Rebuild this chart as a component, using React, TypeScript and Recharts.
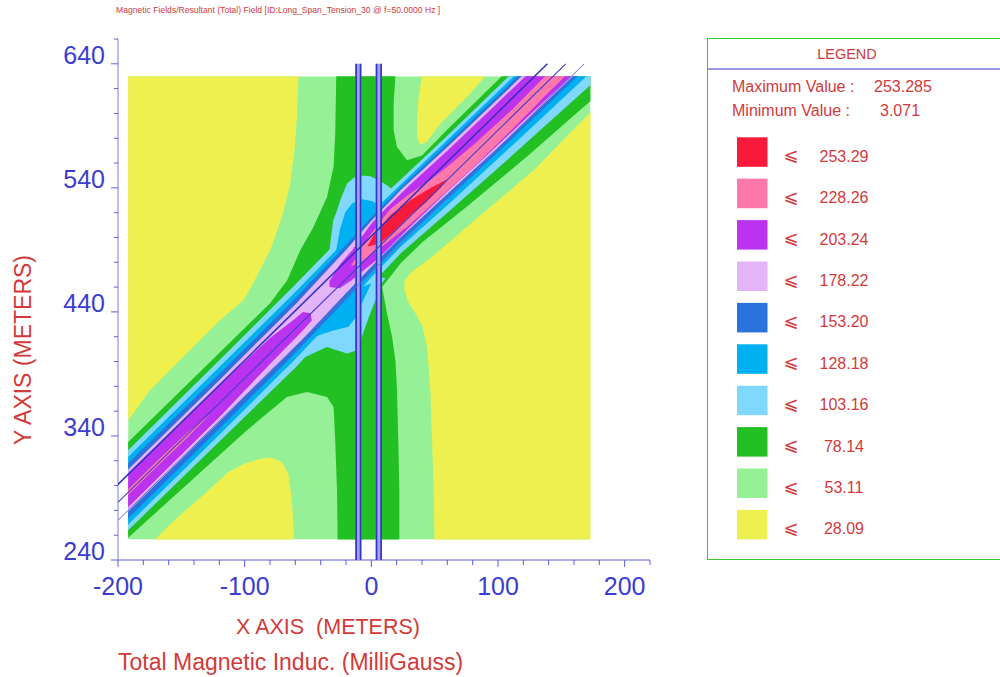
import React from 'react';
import { ComposedChart, XAxis, YAxis, Scatter } from 'recharts';

type P = [number, number];

// ---------- axes ----------
const X_DOMAIN: [number, number] = [-200, 220];
const Y_DOMAIN: [number, number] = [240, 660];
const X_TICKS = [-200, -180, -160, -140, -120, -100, -80, -60, -40, -20, 0, 20, 40, 60, 80, 100, 120, 140, 160, 180, 200, 220];
const Y_TICKS = [240, 260, 280, 300, 320, 340, 360, 380, 400, 420, 440, 460, 480, 500, 520, 540, 560, 580, 600, 620, 640, 660];
const MAJOR_X = [-200, -100, 0, 100, 200];
const MAJOR_Y = [240, 340, 440, 540, 640];

// ---------- legend ----------
const LEGEND_VALUES = ['253.29', '228.26', '203.24', '178.22', '153.20', '128.18', '103.16', '78.14', '53.11', '28.09'];
const LEGEND_COLORS = ['#f81a3a', '#ff78aa', '#bb33ee', '#e4b4f8', '#2a72dc', '#00b0f0', '#80d8ff', '#22c022', '#96f096', '#eef050'];
const MAX_VALUE = '253.285';
const MIN_VALUE = '3.071';

const C_YELLOW = '#eef050';
const C_LGREEN = '#96f096';
const C_GREEN = '#22c022';
const C_LBLUE = '#80d8ff';
const C_CYAN = '#00b0f0';
const C_BLUE = '#2a72dc';
const C_LAV = '#e4b4f8';
const C_PURPLE = '#bb33ee';
const C_PINK = '#ff78aa';
const C_RED = '#f81a3a';

// ---------- contour grid extent (metres) ----------
const GRID: P[] = [[-192, 256.5], [173, 256.5], [173, 630], [-192, 630]];

// ---------- contour regions (metres) ----------
const YELLOW_TL: P[] = [[-200, 645], [-57.5, 645], [-57.5, 630.1], [-58.7, 597.3], [-60.6, 570.4], [-64, 543.8], [-70.6, 516.6], [-79.8, 489.7], [-93.3, 463.1], [-100.9, 449.4], [-122, 430.9], [-148.6, 403.7], [-174.7, 376.9], [-191.9, 352.7], [-200, 345]];
const YELLOW_TR: P[] = [[40.1, 645], [40.1, 630.1], [37.4, 613.4], [36, 594.6], [36.1, 580.1], [38.7, 574.8], [43.5, 576.9], [54.5, 591.4], [62.5, 600], [75.7, 613.4], [90.1, 630.1], [105, 645]];
const YELLOW_BL: P[] = [[-190, 240], [-171, 256.5], [-152.6, 274.7], [-131.5, 293.5], [-113, 311], [-99.8, 317.7], [-86.7, 321.8], [-78.8, 322.6], [-70.9, 319], [-65.6, 309.7], [-63, 290.8], [-61.7, 272], [-61.1, 256.5], [-61, 240]];
const YELLOW_BR: P[] = [[50, 240], [49.8, 256.5], [49.2, 296.2], [48, 336.5], [46.6, 376.9], [44, 411.8], [40.1, 429.3], [33.4, 441.4], [29.2, 447.8], [26.1, 457.5], [26.1, 465.6], [32.4, 472.8], [46.6, 483.3], [74.3, 507.6], [128.3, 554.4], [173.1, 601], [200, 628], [200, 240]];

const GREEN: P[] = [
  [-260, 267], [-79.8, 447.2], [-66.4, 465.5], [-56.1, 489.7], [-45.8, 508.3], [-35, 532.7], [-29.8, 557], [-28.5, 583.9], [-27.7, 630.1], [-27.7, 645],
  [19, 645], [19, 630.1], [17.6, 608], [17.6, 586.5], [20.3, 573], [28.2, 562.3], [40, 566], [60, 587], [103, 630], [120, 647],
  [200, 647], [200, 637], [173, 610], [125, 567], [76, 525.4], [40, 496], [23, 479], [8.5, 460.1],
  [12.4, 438.7], [16.4, 419.8], [19, 401], [20.3, 376.9], [21.6, 323.1], [22.1, 296.2], [22.1, 256.5], [22.1, 230],
  [-26.6, 230], [-26.6, 256.5], [-27.1, 296.2], [-28.5, 336.5], [-29.8, 363.4], [-35, 371.5], [-50.8, 375.5], [-66.6, 371.5], [-98.2, 344.6], [-192, 258], [-260, 190],
];

const LBLUE_BAND: P[] = [
  [-260, 260.5], [-192, 328.5], [-120, 401], [-60, 462], [-20, 504], [0, 525], [23, 546.5], [60, 582], [110, 631.5], [173, 694.5], [230, 751.5],
  [230, 677], [173, 623], [110, 565], [60, 520], [23, 487], [0, 462], [-20, 439], [-60, 395], [-120, 335.5], [-192, 264], [-260, 196],
];
const LBLUE_UPPER_BLOB: P[] = [[-33, 490], [-31.6, 502], [-30, 514], [-27, 522], [-24.5, 530], [-19.2, 543.5], [-11.3, 550.2], [-0.8, 549.4], [5.8, 546.2], [12.4, 542.2], [18, 537], [10, 515], [-20, 480]];
const LBLUE_LOWER_WEDGE: P[] = [[-61.4, 399.4], [-35, 411.8], [-19.2, 406.5], [-11.3, 409.1], [-7.1, 421.2], [-0.8, 439], [4.7, 453.5], [7.1, 461.5], [11.1, 467.2], [0, 470], [-40, 440]];

const CYAN_BAND: P[] = [
  [-260, 255], [-192, 323], [-120, 395.5], [-60, 456], [-20, 498], [0, 520], [23, 542.5], [60, 578.5], [110, 627.5], [173, 690.5], [230, 747.5],
  [230, 688], [173, 633], [110, 573], [60, 526], [23, 492.3], [0, 468], [-20, 445], [-60, 402], [-120, 341], [-192, 268.7], [-260, 200.7],
];
const CYAN_UPPER_BLOB: P[] = [[-28.5, 485.6], [-24.5, 507.4], [-20.6, 520.3], [-15, 527.6], [-7.1, 530.9], [0.8, 529.3], [7.1, 525.3], [0, 505], [-25, 480]];
const CYAN_LOWER_WEDGE: P[] = [[-45, 420], [-30, 425], [-18, 428], [-12, 436], [-6, 450], [0, 463], [-20, 455]];

const BLUE_BAND: P[] = [
  [-260, 250], [-192, 318], [-120, 390], [-60, 451], [-20, 494], [0, 516.5], [23, 540], [60, 575.5], [110, 624.5], [173, 686.5], [230, 743.5],
  [230, 697], [173, 640], [110, 578.5], [60, 531], [23, 496.3], [0, 472], [-20, 450], [-60, 407], [-120, 346], [-192, 273.5], [-260, 205.5],
];

const LAV_BAND: P[] = [
  [-260, 245], [-192, 313], [-120, 385], [-60, 446], [-20, 490], [0, 513.5], [23, 538], [60, 573], [110, 621.5], [173, 683.5], [230, 740.5],
  [230, 700.5], [173, 643.5], [110, 582], [60, 535], [23, 500], [0, 476.5], [-20, 455], [-60, 412], [-120, 351.5], [-192, 279], [-260, 211],
];

const PURPLE_LOWER: P[] = [[-260, 242], [-192, 310], [-120, 381], [-80, 419], [-62, 433], [-54, 440], [-48, 439], [-47, 433], [-55, 424], [-80, 398], [-120, 355], [-192, 282.5], [-260, 214.5]];
const PURPLE_CENTRAL: P[] = [[-33, 465], [-25, 478], [-15, 490], [-8, 500], [0, 511], [10, 522], [30, 542], [60, 570], [90, 599], [130, 638], [150, 657.5], [175, 657.5], [170, 641.5], [130, 603.5], [90, 565], [60, 537], [30, 508], [10, 487.5], [0, 478.5], [-8, 472], [-15, 466], [-25, 459], [-33, 460]];

const PINK_CENTRAL: P[] = [[-16, 477], [-8, 492], [2, 506], [15, 523], [30, 535], [46, 546], [60, 557], [81, 575], [110, 602], [140, 633], [150, 643], [175, 660], [170, 647], [140, 617], [110, 586], [81, 557], [55, 533], [30, 510], [10, 494], [0, 487], [-8, 480]];
const PINK_STREAK: P[] = [[-200, 289], [-170, 319], [-145, 343], [-128, 357], [-145, 339], [-170, 314.5], [-200, 284.5]];

const RED_CORE: P[] = [[-3.2, 492.8], [3.2, 504.1], [15, 517.9], [30.8, 530.1], [46.6, 539.8], [60.1, 547], [54.5, 539.8], [42.7, 527.7], [30.8, 517.9], [19, 505.8], [7.1, 495.4]];

// ---------- conductors (metres) ----------
const LINE_A: P[] = [[-201, 300], [139, 640]];
const LINE_B: P[] = [[-201, 285.5], [153.5, 640]];
const LINE_C: P[] = [[-201, 271], [168, 640]];
const VPAIR_LEFT_FILL: P[] = [[-12.6, 240], [-7.9, 240], [-7.9, 640], [-12.6, 640]];
const VPAIR_RIGHT_FILL: P[] = [[3.5, 240], [8.3, 240], [8.3, 640], [3.5, 640]];
const VLINE_1: P[] = [[-12, 240], [-12, 640]];
const VLINE_2: P[] = [[-8.5, 240], [-8.5, 640]];
const VLINE_3: P[] = [[4.1, 240], [4.1, 640]];
const VLINE_4: P[] = [[7.7, 240], [7.7, 640]];

const FONT = '"Liberation Sans", Arial, sans-serif';
const AXIS_COLOR = '#5b5bdf';
const TICK_COLOR = '#3c3cd0';
const RED_TEXT = '#d23a3a';

const toData = (pts: P[]) => pts.map(([x, y]) => ({ x, y }));

const pathOf = (pts: any[], close: boolean) =>
  pts.map((p: any, i: number) => `${i ? 'L' : 'M'}${p.x.toFixed(2)},${p.y.toFixed(2)}`).join('') + (close ? 'Z' : '');

const polyRenderer = (fill: string) => (props: any) => {
  const pts = props.points || [];
  if (!pts.length) return <g />;
  return <path d={pathOf(pts, true)} fill={fill} stroke="none" clipPath="url(#gridClip)" />;
};

const plainPolyRenderer = (fill: string) => (props: any) => {
  const pts = props.points || [];
  if (!pts.length) return <g />;
  return <path d={pathOf(pts, true)} fill={fill} stroke="none" />;
};

const strokeRenderer = (color: string, width: number) => (props: any) => {
  const pts = props.points || [];
  if (!pts.length) return <g />;
  return <path d={pathOf(pts, false)} fill="none" stroke={color} strokeWidth={width} />;
};

const clipRenderer = (props: any) => {
  const pts = props.points || [];
  if (!pts.length) return <g />;
  return (
    <defs>
      <clipPath id="gridClip">
        <path d={pathOf(pts, true)} />
      </clipPath>
    </defs>
  );
};

const Empty = () => <g />;

const XTick = (props: any) => {
  const { x, y, payload } = props;
  const v = payload.value;
  const major = MAJOR_X.includes(v);
  return (
    <g>
      <line x1={x} y1={y} x2={x} y2={y + (major ? 7 : 5)} stroke={AXIS_COLOR} strokeWidth={1} />
      {major ? (
        <text x={x} y={y + 35} textAnchor="middle" fontSize={25} fill={TICK_COLOR} fontFamily={FONT}>
          {v}
        </text>
      ) : null}
    </g>
  );
};

const YTick = (props: any) => {
  const { x, y, payload } = props;
  const v = payload.value;
  const major = MAJOR_Y.includes(v);
  return (
    <g>
      <line x1={x - (major ? 7 : 4)} y1={y} x2={x} y2={y} stroke={AXIS_COLOR} strokeWidth={1} />
      {major ? (
        <text x={x - 13} y={y} textAnchor="end" fontSize={25} fill={TICK_COLOR} fontFamily={FONT}>
          {v}
        </text>
      ) : null}
    </g>
  );
};

type Layer = { key: string; pts: P[]; render: (p: any) => any };

const FILL_LAYERS: Layer[] = [
  { key: 'lgreen-bg', pts: GRID, render: polyRenderer(C_LGREEN) },
  { key: 'y-tl', pts: YELLOW_TL, render: polyRenderer(C_YELLOW) },
  { key: 'y-tr', pts: YELLOW_TR, render: polyRenderer(C_YELLOW) },
  { key: 'y-bl', pts: YELLOW_BL, render: polyRenderer(C_YELLOW) },
  { key: 'y-br', pts: YELLOW_BR, render: polyRenderer(C_YELLOW) },
  { key: 'green', pts: GREEN, render: polyRenderer(C_GREEN) },
  { key: 'lb-band', pts: LBLUE_BAND, render: polyRenderer(C_LBLUE) },
  { key: 'lb-blob', pts: LBLUE_UPPER_BLOB, render: polyRenderer(C_LBLUE) },
  { key: 'lb-wedge', pts: LBLUE_LOWER_WEDGE, render: polyRenderer(C_LBLUE) },
  { key: 'cy-band', pts: CYAN_BAND, render: polyRenderer(C_CYAN) },
  { key: 'cy-blob', pts: CYAN_UPPER_BLOB, render: polyRenderer(C_CYAN) },
  { key: 'cy-wedge', pts: CYAN_LOWER_WEDGE, render: polyRenderer(C_CYAN) },
  { key: 'blue-band', pts: BLUE_BAND, render: polyRenderer(C_BLUE) },
  { key: 'lav-band', pts: LAV_BAND, render: polyRenderer(C_LAV) },
  { key: 'pu-lower', pts: PURPLE_LOWER, render: polyRenderer(C_PURPLE) },
  { key: 'pu-central', pts: PURPLE_CENTRAL, render: polyRenderer(C_PURPLE) },
  { key: 'pk-central', pts: PINK_CENTRAL, render: polyRenderer(C_PINK) },
  { key: 'pk-streak', pts: PINK_STREAK, render: polyRenderer(C_PINK) },
  { key: 'red', pts: RED_CORE, render: polyRenderer(C_RED) },
];

const LINE_LAYERS: Layer[] = [
  { key: 'vp-l', pts: VPAIR_LEFT_FILL, render: plainPolyRenderer('#a4a4ee') },
  { key: 'vp-r', pts: VPAIR_RIGHT_FILL, render: plainPolyRenderer('#a4a4ee') },
  { key: 'v1', pts: VLINE_1, render: strokeRenderer('#3434c8', 1.7) },
  { key: 'v2', pts: VLINE_2, render: strokeRenderer('#3434c8', 1.7) },
  { key: 'v3', pts: VLINE_3, render: strokeRenderer('#3434c8', 1.7) },
  { key: 'v4', pts: VLINE_4, render: strokeRenderer('#3434c8', 1.7) },
  { key: 'la', pts: LINE_A, render: strokeRenderer('#3030c4', 1.5) },
  { key: 'lb', pts: LINE_B, render: strokeRenderer('#4040cc', 1.1) },
  { key: 'lc', pts: LINE_C, render: strokeRenderer('#6a6ad8', 1) },
];

function Legend() {
  return (
    <svg width={1000} height={677} style={{ position: 'absolute', left: 0, top: 0, pointerEvents: 'none' }}>
      <text x={116} y={13} fontSize={8.6} fill={RED_TEXT} fontFamily={FONT}>
        Magnetic Fields/Resultant (Total) Field [ID:Long_Span_Tension_30  @ f=50.0000 Hz ]
      </text>
      <text x={0} y={0} transform="translate(31,350) rotate(-90)" textAnchor="middle" fontSize={23} fill={RED_TEXT} fontFamily={FONT}>
        Y AXIS (METERS)
      </text>
      <text x={236} y={634} fontSize={21.5} fill={RED_TEXT} fontFamily={FONT} style={{ whiteSpace: 'pre' }}>
        {'X AXIS  (METERS)'}
      </text>
      <text x={118} y={670} fontSize={23} fill={RED_TEXT} fontFamily={FONT}>
        Total Magnetic Induc. (MilliGauss)
      </text>

      <rect x={707.5} y={38.5} width={300} height={521} fill="none" stroke="#33cc33" strokeWidth={1} />
      <line x1={707.5} y1={69} x2={1000} y2={69} stroke="#3434cc" strokeWidth={1} />
      <text x={847} y={59} textAnchor="middle" fontSize={14.5} fill={RED_TEXT} fontFamily={FONT}>LEGEND</text>
      <text x={732} y={91.5} fontSize={16} fill={RED_TEXT} fontFamily={FONT}>Maximum Value :</text>
      <text x={874} y={91.5} fontSize={16} fill={RED_TEXT} fontFamily={FONT}>{MAX_VALUE}</text>
      <text x={732} y={115.5} fontSize={16} fill={RED_TEXT} fontFamily={FONT}>Minimum Value :</text>
      <text x={880} y={115.5} fontSize={16} fill={RED_TEXT} fontFamily={FONT}>{MIN_VALUE}</text>
      {LEGEND_VALUES.map((v, i) => {
        const top = 137.3 + 41.4 * i;
        return (
          <g key={v}>
            <rect x={737} y={top} width={30.5} height={29.5} fill={LEGEND_COLORS[i]} />
            <text x={791} y={top + 24} textAnchor="middle" fontSize={18} fill={RED_TEXT} fontFamily="DejaVu Sans">⩽</text>
            <text x={844} y={top + 24.5} textAnchor="middle" fontSize={16} fill={RED_TEXT} fontFamily={FONT}>{v}</text>
          </g>
        );
      })}
    </svg>
  );
}

export default function App() {
  return (
    <div style={{ position: 'absolute', left: 0, top: 0, width: 1000, height: 677, background: '#ffffff', fontFamily: FONT }}>
      <ComposedChart width={1000} height={677} margin={{ top: 39, right: 350, bottom: 116, left: 117 }}>
        <XAxis
          type="number"
          dataKey="x"
          domain={X_DOMAIN}
          allowDataOverflow
          ticks={X_TICKS}
          interval={0}
          height={1}
          tickSize={0}
          tickMargin={0}
          tickLine={false}
          tick={XTick}
          axisLine={{ stroke: AXIS_COLOR, strokeWidth: 1 }}
        />
        <YAxis
          type="number"
          dataKey="y"
          domain={Y_DOMAIN}
          allowDataOverflow
          ticks={Y_TICKS}
          interval={0}
          width={1}
          tickSize={0}
          tickMargin={0}
          tickLine={false}
          tick={YTick}
          axisLine={{ stroke: '#7c7ce6', strokeWidth: 1 }}
        />
        <Scatter key="clip" data={toData(GRID)} shape={Empty} line={clipRenderer} isAnimationActive={false} />
        {FILL_LAYERS.map((l) => (
          <Scatter key={l.key} name={l.key} data={toData(l.pts)} shape={Empty} line={l.render} isAnimationActive={false} />
        ))}
        {LINE_LAYERS.map((l) => (
          <Scatter key={l.key} name={l.key} data={toData(l.pts)} shape={Empty} line={l.render} isAnimationActive={false} />
        ))}
      </ComposedChart>
      <Legend />
    </div>
  );
}
